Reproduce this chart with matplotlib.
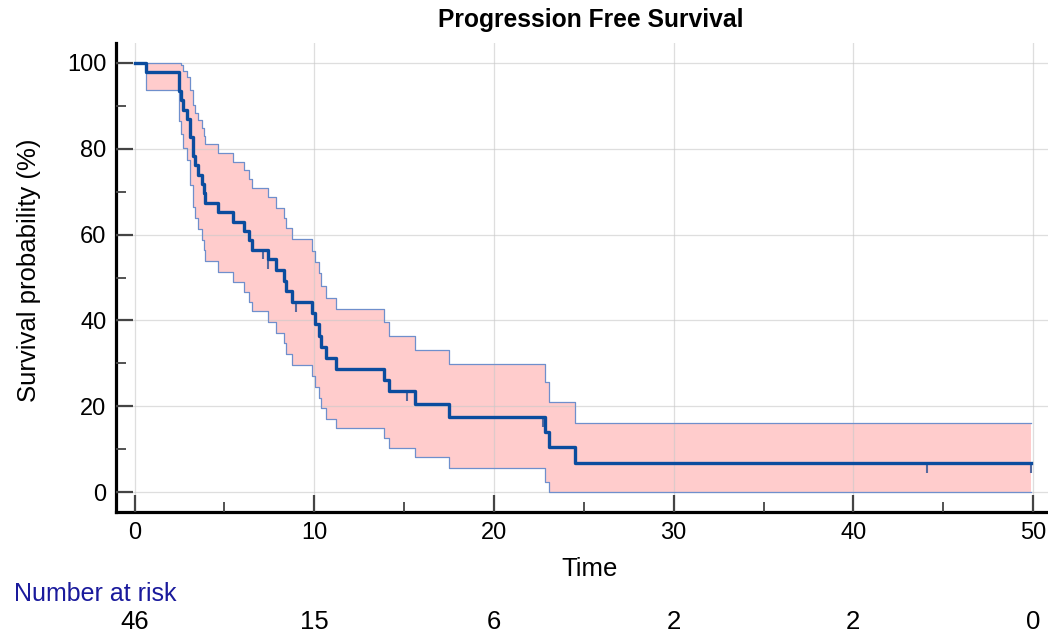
import numpy as np
import matplotlib
matplotlib.use("Agg")
import matplotlib.pyplot as plt
from matplotlib.transforms import blended_transform_factory

plt.rcParams['font.family'] = ['Liberation Sans', 'DejaVu Sans']

# ---- data ----
times = [0, 0.65, 2.45, 2.56, 2.69, 2.91, 3.06, 3.24, 3.39, 3.54,
         3.73, 3.85, 3.95, 4.63, 5.47, 6.12, 6.36, 6.55, 7.41, 7.88,
         8.34, 8.44, 8.77, 9.86, 10.05, 10.25, 10.38, 10.66, 11.22, 13.90,
         14.18, 15.61, 17.52, 22.84, 23.04, 24.53]
survival = [100, 97.8, 93.5, 91.3, 89.1, 87.0, 82.6, 78.3, 76.1, 73.9,
            71.7, 69.6, 67.4, 65.2, 63.0, 60.9, 58.7, 56.5, 54.2, 51.7,
            49.3, 46.9, 44.3, 41.7, 39.2, 36.4, 33.9, 31.2, 28.7, 26.1,
            23.5, 20.5, 17.6, 14.1, 10.6, 6.9]
upper = [100, 100, 100, 99.4, 98.1, 96.7, 93.6, 90.2, 88.4, 86.6,
         84.7, 82.9, 81.0, 79.0, 77.0, 75.0, 72.9, 70.8, 68.7, 66.1,
         63.8, 61.5, 58.9, 56.2, 53.7, 51.0, 48.0, 45.3, 42.6, 39.7,
         36.5, 33.1, 29.8, 25.6, 21.1, 16.1]
lower = [100, 93.7, 86.5, 83.3, 80.2, 77.3, 71.6, 66.4, 63.8, 61.2,
         58.7, 56.3, 53.9, 51.4, 49.0, 46.7, 44.4, 42.2, 39.7, 37.2,
         34.7, 32.2, 29.6, 27.1, 24.6, 21.9, 19.6, 17.1, 14.9, 12.6,
         10.4, 8.1, 5.6, 2.5, 0, 0]
end_time = 49.9
censor_times = [7.17, 7.45, 8.99, 15.17, 22.75, 44.1, 49.9]

risk_times = [0, 10, 20, 30, 40, 50]
risk_counts = [46, 15, 6, 2, 2, 0]

xticks = [0, 10, 20, 30, 40, 50]
yticks = [0, 20, 40, 60, 80, 100]

# ---- figure ----
W, H = 1048, 632
fig = plt.figure(figsize=(W / 100, H / 100), dpi=100)
ax = fig.add_axes([116 / W, (H - 512.3) / H, 1 - 116 / W, (512.3 - 43) / H])

t_plot = np.append(times, end_time)
s_plot = np.append(survival, survival[-1])
u_plot = np.append(upper, upper[-1])
l_plot = np.append(lower, lower[-1])

ax.fill_between(t_plot, l_plot, u_plot, step='post', color='#ffcccc',
                lw=0, zorder=1)
ax.step(t_plot, u_plot, where='post', color='#6f8fcc', lw=0.9, zorder=3)
ax.step(t_plot, l_plot, where='post', color='#6f8fcc', lw=0.9, zorder=3)
ax.step(t_plot, s_plot, where='post', color='#0b4c9e', lw=2.4, zorder=5)

# censor marks
idx = np.searchsorted(times, censor_times, side='right') - 1
c_levels = np.array(survival)[idx]
ax.vlines(censor_times, c_levels - 2.3, c_levels, color='#56699e', lw=1.5,
          zorder=4)

ax.set_xlim(-1.03, 50.83)
ax.set_ylim(-4.66, 104.6)

ax.set_xticks(xticks)
ax.set_xticks([5, 15, 25, 35, 45], minor=True)
ax.set_yticks(yticks)
ax.set_yticks([10, 30, 50, 70, 90], minor=True)

ax.tick_params(which='major', direction='in', length=12, width=1.6,
               color='#444444', labelsize=17, pad=7)
ax.tick_params(which='minor', direction='in', length=7, width=1.3,
               color='#444444')

for side in ['top', 'right']:
    ax.spines[side].set_visible(False)
for side in ['left', 'bottom']:
    ax.spines[side].set_linewidth(2.3)
    ax.spines[side].set_color('black')

ax.set_axisbelow(False)
ax.grid(True, which='major', color='#c9c9c9', lw=0.9, alpha=0.6, zorder=2)

# texts
fig.text(591 / W, 1 - 20 / H, 'Progression Free Survival', ha='center',
         va='center', fontsize=17.7, fontweight='bold')
fig.text(29 / W, 1 - 270 / H, 'Survival probability (%)', rotation=90,
         ha='center', va='center', fontsize=18.5)
fig.text(590 / W, 1 - 569 / H, 'Time', ha='center', va='center',
         fontsize=18.5)
fig.text(14 / W, 1 - 594 / H, 'Number at risk', ha='left', va='center',
         fontsize=18, color='#1a1a9c')

trans = blended_transform_factory(ax.transData, fig.transFigure)
for t, n in zip(risk_times, risk_counts):
    ax.text(t, 1 - 622 / H, str(n), transform=trans, ha='center',
            va='center', fontsize=18.5, clip_on=False)

fig.savefig('out.png', dpi=100)
